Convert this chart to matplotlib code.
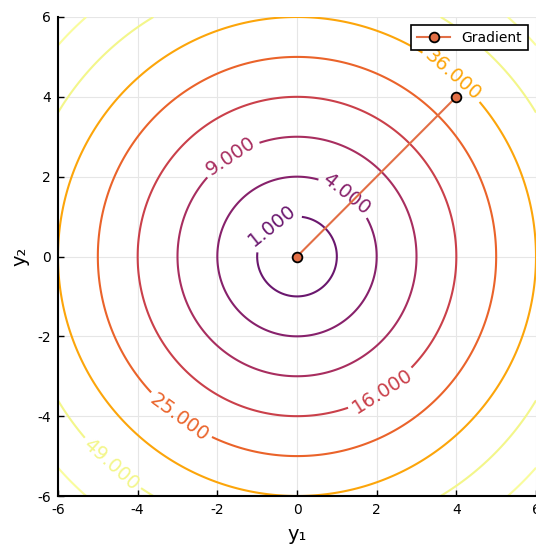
import numpy as np
import matplotlib.pyplot as plt
from matplotlib import cm

# contour levels of f(y1, y2) = y1^2 + y2^2
levels = [1, 4, 9, 16, 25, 36, 49, 64]
level_shades = [0.30, 0.37, 0.45, 0.54, 0.65, 0.80, 0.97, 0.99]

# approximate label positions (data coords)
label_pos = [(-0.63, 0.79), (1.26, 1.59), (-1.68, 2.54), (2.08, -3.29),
             (-2.94, -4.02), (3.92, 4.55), (-4.62, -5.17)]

# gradient path
grad_y1 = [4, 0]
grad_y2 = [4, 0]

ticks = [-6, -4, -2, 0, 2, 4, 6]

fig = plt.figure(figsize=(5.36, 5.49), dpi=100)
ax = fig.add_axes([58/536, 1 - 496/549, 478/536, 479/549])

g = np.linspace(-6, 6, 400)
Y1, Y2 = np.meshgrid(g, g)
Z = Y1**2 + Y2**2

colors = [cm.inferno(s) for s in level_shades]
cs = ax.contour(Y1, Y2, Z, levels=levels, colors=colors, linewidths=1.5)
lbl = ax.clabel(cs, levels[:7], inline=True, fmt='%.3f', fontsize=14,
                manual=label_pos, inline_spacing=4)

ax.plot(grad_y1, grad_y2, color='#e26f46', lw=1.5, marker='o', ms=7,
        mfc='#e26f46', mec='black', mew=1.3, label='Gradient', zorder=5)

ax.set_xlim(-6, 6)
ax.set_ylim(-6, 6)
ax.set_xticks(ticks)
ax.set_yticks(ticks)
ax.set_xticklabels([str(t) for t in ticks])
ax.set_yticklabels([str(t) for t in ticks])
ax.tick_params(direction='in', length=4, width=1, labelsize=10, pad=5)
ax.grid(True, color='#e6e6e6', lw=0.8)
ax.set_axisbelow(True)
for s in ['top', 'right']:
    ax.spines[s].set_visible(False)
for s in ['left', 'bottom']:
    ax.spines[s].set_linewidth(1.5)
ax.set_xlabel('y₁', fontsize=14, labelpad=6)
ax.set_ylabel('y₂', fontsize=14, labelpad=6)

leg = ax.legend(loc='upper right', fontsize=10, fancybox=False, framealpha=1,
                edgecolor='black', borderaxespad=0.6, handlelength=2.4)
leg.get_frame().set_linewidth(1.2)

fig.savefig('out.png', dpi=100)
